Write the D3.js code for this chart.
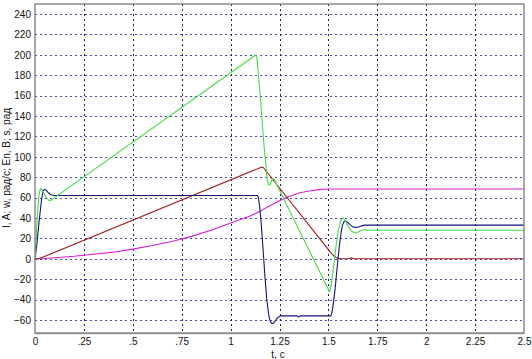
<!DOCTYPE html>
<html><head><meta charset="utf-8">
<script src="https://cdn.jsdelivr.net/npm/d3@7"></script>
<style>
body{margin:0;background:#fff;}
text{font-family:"Liberation Sans",Arial,sans-serif;font-size:10px;fill:#111;}
</style></head>
<body>
<svg id="c" width="532" height="359"></svg>
<script>
const xTicks = [0, 0.25, 0.5, 0.75, 1, 1.25, 1.5, 1.75, 2, 2.25, 2.5];
const xTickLabels = ["0", ".25", ".5", ".75", "1", "1.25", "1.5", "1.75", "2", "2.25", "2.5"];
const yTicks = [-60, -40, -20, 0, 20, 40, 60, 80, 100, 120, 140, 160, 180, 200, 220, 240];
const xLabel = "t, c";
const yLabel = "I, A; w, рад/с; En, B; s, рад";

// green: w
const greenT = [0, 0.005, 0.01, 0.015, 0.02, 0.025, 0.03, 0.035, 0.04, 0.05, 0.06, 0.07, 0.075, 0.08, 0.09, 0.1, 1.13, 1.135, 1.14, 1.15, 1.16, 1.17, 1.18, 1.185, 1.19, 1.195, 1.2, 1.205, 1.21, 1.215, 1.22, 1.225, 1.505, 1.51, 1.52, 1.53, 1.54, 1.55, 1.56, 1.565, 1.573, 1.58, 1.59, 1.6, 1.61, 1.62, 1.63, 1.64, 1.65, 1.66, 1.67, 1.68, 1.7, 2.5];
const greenV = [0, 18, 35, 50, 62, 67, 69, 68.5, 67, 63, 59.5, 57.5, 57, 57.3, 58.5, 60, 200, 197, 186, 163, 138, 113, 92, 82, 75, 72.5, 72.5, 74, 76.5, 78.5, 78.5, 77, -32, -30, -18, -2, 14, 27, 35, 38, 40, 39, 36, 32, 29, 27, 25.8, 25.5, 26, 27, 28, 28.5, 28, 28];
// navy: I
const blueT = [0, 0.01, 0.02, 0.03, 0.035, 0.04, 0.045, 0.05, 0.055, 0.06, 0.07, 0.08, 0.09, 0.1, 0.12, 1.138, 1.142, 1.148, 1.155, 1.165, 1.175, 1.185, 1.195, 1.2, 1.205, 1.21, 1.215, 1.22, 1.228, 1.235, 1.245, 1.255, 1.34, 1.345, 1.35, 1.355, 1.513, 1.518, 1.525, 1.535, 1.545, 1.555, 1.565, 1.572, 1.58, 1.585, 1.59, 1.6, 1.61, 1.62, 1.63, 1.64, 1.65, 1.66, 1.67, 1.685, 1.7, 2.5];
const blueV = [0, 15, 35, 52, 60, 65, 67.5, 68, 67.5, 66.5, 64.5, 63, 62.3, 62, 62, 62, 60, 52, 38, 12, -16, -40, -55, -59.5, -62, -63.3, -63.5, -63, -61, -59, -57, -56, -56, -57, -56.8, -56, -56, -53, -44, -28, -8, 11, 26, 33, 36.5, 37.2, 37, 35.5, 33.5, 32, 31, 30.8, 31, 31.6, 32.3, 33, 33, 33];
// dark red: En
const redT = [0, 0.02, 1.16, 1.165, 1.17, 1.5, 1.51, 1.52, 1.53, 1.54, 1.55, 1.56, 1.6, 1.61, 1.62, 1.63, 2.5];
const redV = [0, 0, 90, 89.8, 88.8, 9, 6.5, 4.3, 2.5, 1.2, 0.4, 0, 0, 0.5, 0.9, 0, 0];
// magenta: s
const magT = [0, 0.05, 0.1, 0.2, 0.3, 0.4, 0.5, 0.6, 0.7, 0.8, 0.9, 1.0, 1.1, 1.15, 1.2, 1.25, 1.3, 1.35, 1.4, 1.45, 1.5, 1.55, 2.5];
const magV = [0, 0.3, 1, 2.5, 4.5, 6.5, 9.5, 13, 17, 22, 28, 35, 42, 46.5, 52, 57, 61, 64.5, 66.5, 67.8, 68.4, 68.5, 68.5];

const series = [
  {t: magT, v: magV, color: "#d81ed8"},
  {t: redT, v: redV, color: "#a01818"},
  {t: blueT, v: blueV, color: "#14147c"},
  {t: greenT, v: greenV, color: "#44dc44"}
];

const svg = d3.select("#c");
const L = 35, R = 524, T = 4, B = 333;
const x = d3.scaleLinear().domain([0, 2.5]).range([L, R]);
const y = d3.scaleLinear().domain([-60, 240]).range([320, 14]);

svg.append("rect").attr("x", L).attr("y", T).attr("width", R - L).attr("height", B - T).attr("fill", "#fff");

// grid
svg.append("g").selectAll("line").data(yTicks).join("line")
  .attr("x1", L).attr("x2", R).attr("y1", d => Math.round(y(d)) + 0.5).attr("y2", d => Math.round(y(d)) + 0.5)
  .attr("stroke", "#4a4aa0").attr("stroke-width", 1).attr("stroke-dasharray", "2,3");
svg.append("g").selectAll("line").data(xTicks.slice(1, -1)).join("line")
  .attr("x1", d => Math.round(x(d)) + 0.5).attr("x2", d => Math.round(x(d)) + 0.5).attr("y1", T).attr("y2", B)
  .attr("stroke", "#202060").attr("stroke-width", 1).attr("stroke-dasharray", "2,3");

// lines
const clipId = "clp";
svg.append("clipPath").attr("id", clipId).append("rect").attr("x", L).attr("y", T).attr("width", R - L).attr("height", B - T);
const line = d3.line().x(d => x(d[0])).y(d => y(d[1])).curve(d3.curveLinear);
series.forEach(s => {
  const pts = s.t.map((t, i) => [t, s.v[i]]);
  svg.append("path").attr("d", line(pts)).attr("fill", "none")
    .attr("stroke", s.color).attr("stroke-width", 1.1).attr("stroke-linejoin", "round").attr("clip-path", `url(#${clipId})`);
});

// frame
svg.append("rect").attr("x", L).attr("y", T).attr("width", R - L).attr("height", B - T)
  .attr("fill", "none").attr("stroke", "#7a7a7a").attr("stroke-width", 1.3);
svg.append("line").attr("x1", L).attr("x2", R).attr("y1", B + 0.5).attr("y2", B + 0.5).attr("stroke", "#909090").attr("stroke-width", 1.5);

// axes tick labels
const xAxis = d3.axisBottom(x).tickValues(xTicks).tickFormat((d, i) => xTickLabels[i]).tickSize(0).tickPadding(5);
const gx = svg.append("g").attr("transform", `translate(0,${B})`).call(xAxis);
gx.select(".domain").remove();
gx.selectAll("text").attr("font-size", 10).attr("font-family", "Liberation Sans, Arial, sans-serif").attr("fill", "#111");

const yAxis = d3.axisLeft(y).tickValues(yTicks).tickSize(0).tickPadding(4);
const gy = svg.append("g").attr("transform", `translate(${L},0)`).call(yAxis);
gy.select(".domain").remove();
gy.selectAll("text").attr("font-size", 10).attr("font-family", "Liberation Sans, Arial, sans-serif").attr("fill", "#111");

svg.append("text").attr("x", 278).attr("y", 358).attr("text-anchor", "middle").attr("font-size", 9).text(xLabel);
svg.append("text").attr("transform", "translate(10,168) rotate(-90)").attr("text-anchor", "middle").attr("font-size", 9).text(yLabel);
</script>
</body></html>
